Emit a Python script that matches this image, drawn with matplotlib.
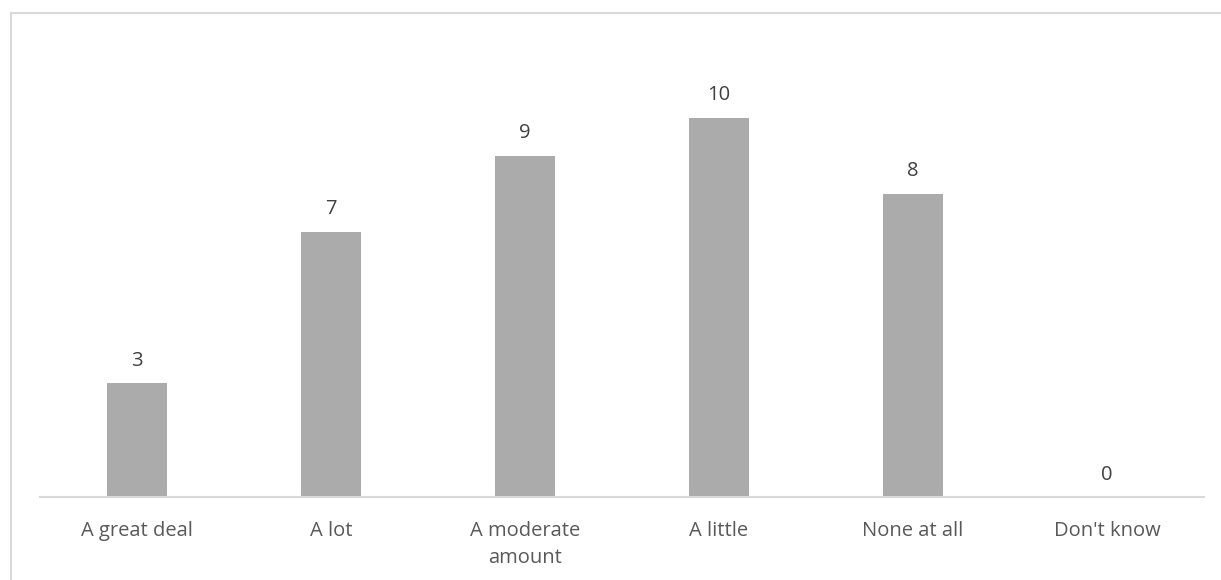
import matplotlib.pyplot as plt
from matplotlib.lines import Line2D
import numpy as np

# 回答カテゴリと件数
categories = ["A great deal", "A lot", "A moderate\namount", "A little", "None at all", "Don't know"]
counts = [3, 7, 9, 10, 8, 0]

plt.rcParams['font.family'] = ['Open Sans', 'DejaVu Sans']

fig = plt.figure(figsize=(12.21, 5.8), dpi=100)
ax = fig.add_axes([40/1221, 1-497/580, (1204-40)/1221, 455/580])

x = np.arange(len(categories))
bars = ax.bar(x, counts, width=0.31, color='#ABABAB', zorder=2)

# 棒の上に値
for xi, v in zip(x, counts):
    ax.annotate(str(v), (xi, v), xytext=(0, 9), textcoords='offset points',
                ha='center', va='bottom', fontsize=14.5, color='#404040')

ax.set_xlim(-0.5, len(categories) - 0.5)
ax.set_ylim(0, 12)
ax.set_xticks(x)
ax.set_xticklabels(categories, fontsize=14.5, color='#595959', linespacing=1.5)
ax.tick_params(axis='x', length=0, pad=17)
ax.set_yticks([])
for s in ['top', 'right', 'left']:
    ax.spines[s].set_visible(False)
ax.spines['bottom'].set_color('#D9D9D9')
ax.spines['bottom'].set_linewidth(1.5)

# 外枠(上と左)
fig.add_artist(Line2D([11/1221, 1], [1-13/580, 1-13/580], color='#D9D9D9', lw=1.5))
fig.add_artist(Line2D([11/1221, 11/1221], [0, 1-13/580], color='#D9D9D9', lw=1.5))

plt.savefig('out.png', dpi=100)
